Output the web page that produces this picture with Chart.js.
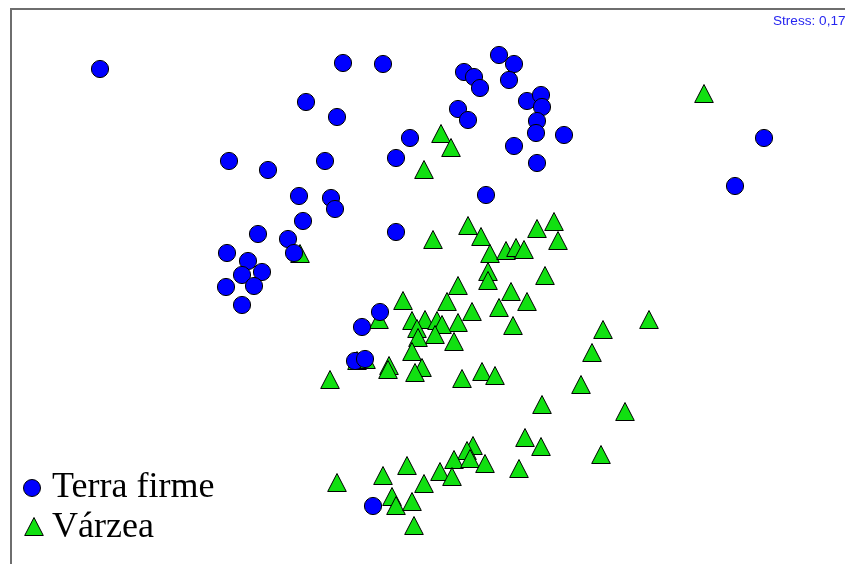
<!DOCTYPE html>
<html>
<head>
    <meta charset="UTF-8" />
    <title>NMDS Terra firme / Várzea</title>
    <script src="https://cdn.jsdelivr.net/npm/chart.js@4.4.9/dist/chart.umd.min.js"></script>
    <style>
        body { margin: 0; background: #fff; }
        #wrap { width: 845px; height: 564px; }
    </style>
</head>
<body>
    <div id="wrap"><canvas id="chart"></canvas></div>
<script>
    // ordination scores (x to the right, y downward)
    const terraFirmeX = [100, 229, 268, 343, 383, 306, 337, 464, 474, 480, 499, 514, 509, 527, 541, 542, 537, 536, 564, 514, 537,
        458, 468, 410, 396, 325, 299, 331, 335, 486, 764, 735, 303, 258, 227, 248, 288, 294, 262, 242, 226, 254, 242, 396,
        380, 362, 355, 365, 373];
    const terraFirmeY = [69, 161, 170, 63, 64, 102, 117, 72, 77, 88, 55, 64, 80, 101, 95, 107, 121, 133, 135, 146, 163,
        109, 120, 138, 158, 161, 196, 198, 209, 195, 138, 186, 221, 234, 253, 261, 239, 253, 272, 275, 287, 286, 305, 232,
        312, 327, 361, 359, 506];

    const varzeaX = [441, 451, 424, 704, 300, 433, 468, 481, 490, 506, 516, 524, 537, 554, 558, 488, 488, 545, 458, 403,
        447, 472, 499, 511, 527, 513, 458, 379, 412, 425, 437, 442, 417, 435, 454, 418, 412, 357, 366, 389, 388, 422, 415,
        330, 462, 482, 495, 581, 592, 603, 649, 542, 625, 525, 541, 601, 519, 473, 467, 454, 470, 485, 440, 452, 407, 383,
        337, 424, 392, 396, 412, 414];
    const varzeaY = [136, 150, 172, 96, 256, 242, 228, 239, 256, 253, 250, 252, 231, 224, 243, 274, 283, 278, 288, 303,
        304, 314, 310, 294, 304, 328, 325, 322, 323, 322, 323, 327, 331, 337, 344, 340, 354, 363, 362, 368, 372, 370, 375,
        382, 381, 374, 378, 387, 355, 332, 322, 407, 414, 440, 449, 457, 471, 448, 453, 462, 461, 466, 474, 479, 468, 478,
        485, 486, 499, 508, 504, 528];

    const seriesNames = ['Terra firme', 'Várzea'];
    const stressLabel = 'Stress: 0,17';

    const blue = '#0000ff';
    const green = '#11e011';

    function toPoints(xs, ys) {
        return xs.map((x, i) => ({ x: x, y: ys[i] }));
    }

    // the triangles in the original are a bit taller than equilateral,
    // so draw one into a small canvas and use it as point style
    function makeTriangle() {
        const c = document.createElement('canvas');
        c.width = 24;
        c.height = 24;
        const t = c.getContext('2d');
        t.fillStyle = green;
        t.strokeStyle = '#000';
        t.lineWidth = 1;
        t.beginPath();
        t.moveTo(12, 0.5);
        t.lineTo(21.3, 18.5);
        t.lineTo(2.7, 18.5);
        t.closePath();
        t.fill();
        t.stroke();
        return c;
    }
    const triangleImg = makeTriangle();

    // frame, legend and stress text
    const extras = {
        id: 'extras',
        afterDraw(chart) {
            const ctx = chart.ctx;
            ctx.save();
            ctx.strokeStyle = '#6e6e6e';
            ctx.lineWidth = 2;
            ctx.beginPath();
            ctx.moveTo(11, 564);
            ctx.lineTo(11, 9);
            ctx.lineTo(845, 9);
            ctx.stroke();

            ctx.fillStyle = '#2626f0';
            ctx.font = '13.6px "Liberation Sans", Arial, sans-serif';
            ctx.textBaseline = 'alphabetic';
            ctx.fillText(stressLabel, 773, 25);

            // legend
            ctx.lineWidth = 1;
            ctx.strokeStyle = '#000';
            ctx.fillStyle = blue;
            ctx.beginPath();
            ctx.arc(32, 488, 8.5, 0, Math.PI * 2);
            ctx.fill();
            ctx.stroke();

            ctx.drawImage(triangleImg, 22, 517);

            ctx.fillStyle = '#000';
            ctx.font = '36px "Liberation Serif", "Times New Roman", serif';
            ctx.fillText(seriesNames[0], 52, 497);
            ctx.fillText(seriesNames[1], 52, 537);
            ctx.restore();
        }
    };

    let chart = new Chart(
        document.getElementById('chart'),
        {
            type: 'scatter',
            data: {
                datasets: [
                    {
                        label: seriesNames[0],
                        data: toPoints(terraFirmeX, terraFirmeY),
                        pointStyle: 'circle',
                        pointRadius: 8.6,
                        backgroundColor: blue,
                        borderColor: '#000000',
                        borderWidth: 1,
                        clip: false
                    },
                    {
                        label: seriesNames[1],
                        data: toPoints(varzeaX, varzeaY),
                        pointStyle: triangleImg,
                        pointRadius: 11,
                        backgroundColor: green,
                        borderColor: '#000000',
                        borderWidth: 1,
                        clip: false
                    }
                ]
            },
            options: {
                responsive: true,
                maintainAspectRatio: false,
                animation: false,
                layout: { autoPadding: false, padding: { left: 11, top: 9, right: 0, bottom: 0 } },
                scales: {
                    x: { type: 'linear', min: 11, max: 845, display: false },
                    y: { type: 'linear', min: 9, max: 564, reverse: true, display: false }
                },
                plugins: {
                    legend: { display: false },
                    tooltip: { enabled: false }
                }
            },
            plugins: [extras]
        }
    );
</script>
</body>
</html>
